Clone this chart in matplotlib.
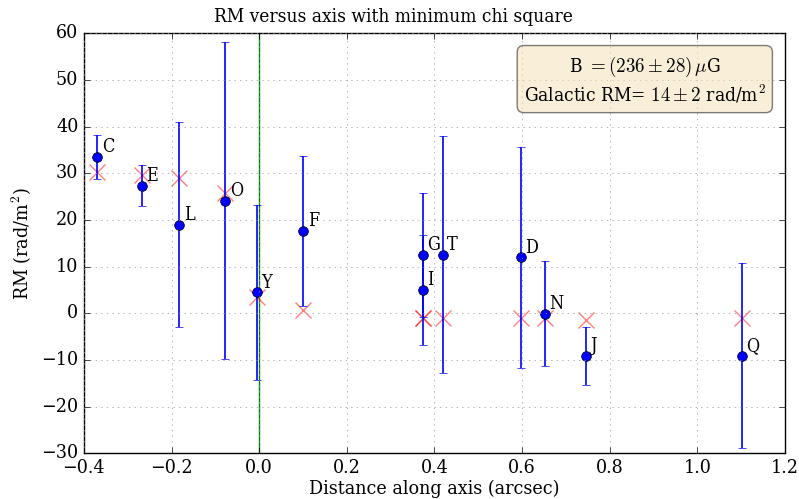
import matplotlib
matplotlib.use("Agg")
import matplotlib.pyplot as plt

plt.style.use("classic")
plt.rcParams["font.family"] = "serif"
plt.rcParams["font.serif"] = ["DejaVu Serif"]
plt.rcParams["font.stretch"] = "condensed"
plt.rcParams["mathtext.fontset"] = "cm"

# Source components along the jet axis
names = ["C", "E", "L", "O", "Y", "F", "G", "I", "T", "D", "N", "J", "Q"]
distance = [-0.369, -0.268, -0.182, -0.077, -0.005, 0.101, 0.373, 0.373, 0.419, 0.597, 0.652, 0.746, 1.101]
rm = [33.5, 27.3, 19.0, 24.1, 4.5, 17.6, 12.5, 5.0, 12.5, 12.0, -0.1, -9.1, -9.1]
rm_err = [4.7, 4.4, 22.0, 33.9, 18.7, 16.1, 13.3, 11.7, 25.4, 23.7, 11.2, 6.2, 19.8]
# Best-fit model RM at each component
model_rm = [30.3, 29.6, 28.9, 25.8, 3.4, 0.8, -1.1, -1.1, -1.1, -1.1, -1.1, -1.4, -1.1]

fig = plt.figure(figsize=(7.99, 4.99), dpi=100)
ax = fig.add_axes([0.105, 0.0916, 0.8775, 0.842])

ax.axvline(0.0, color="green", lw=1)
ax.plot(distance, model_rm, "rx", markersize=11, mew=1, alpha=0.5)
ax.errorbar(distance, rm, yerr=rm_err, fmt="bo", ecolor="b", markersize=7,
            capsize=3, elinewidth=1.2)
for n, x, y in zip(names, distance, rm):
    ax.text(x + 0.01, y + 1, n, fontsize=13)

ax.set_xlim(-0.4, 1.2)
ax.set_ylim(-30, 60)
ax.grid(True, color="0.6", linestyle=":")
fig.text(0.492, 0.966, "RM versus axis with minimum chi square", fontsize=13.7,
         ha="center", va="center")
ax.set_xlabel("Distance along axis (arcsec)", fontsize=14, labelpad=2)
ax.set_ylabel("RM (rad/m$^2$)", fontsize=14)
ax.tick_params(labelsize=14)

box_text = "B $=(236\\pm28)\\,\\mu$G\nGalactic RM= $14\\pm2$ rad/m$^2$"
ax.text(0.80, 0.887, box_text, transform=ax.transAxes, fontsize=13.7,
        ha="center", va="center", multialignment="center", linespacing=1.25,
        bbox=dict(boxstyle="round,pad=0.35", facecolor="wheat", alpha=0.5))

fig.savefig("out.png", dpi=100)
